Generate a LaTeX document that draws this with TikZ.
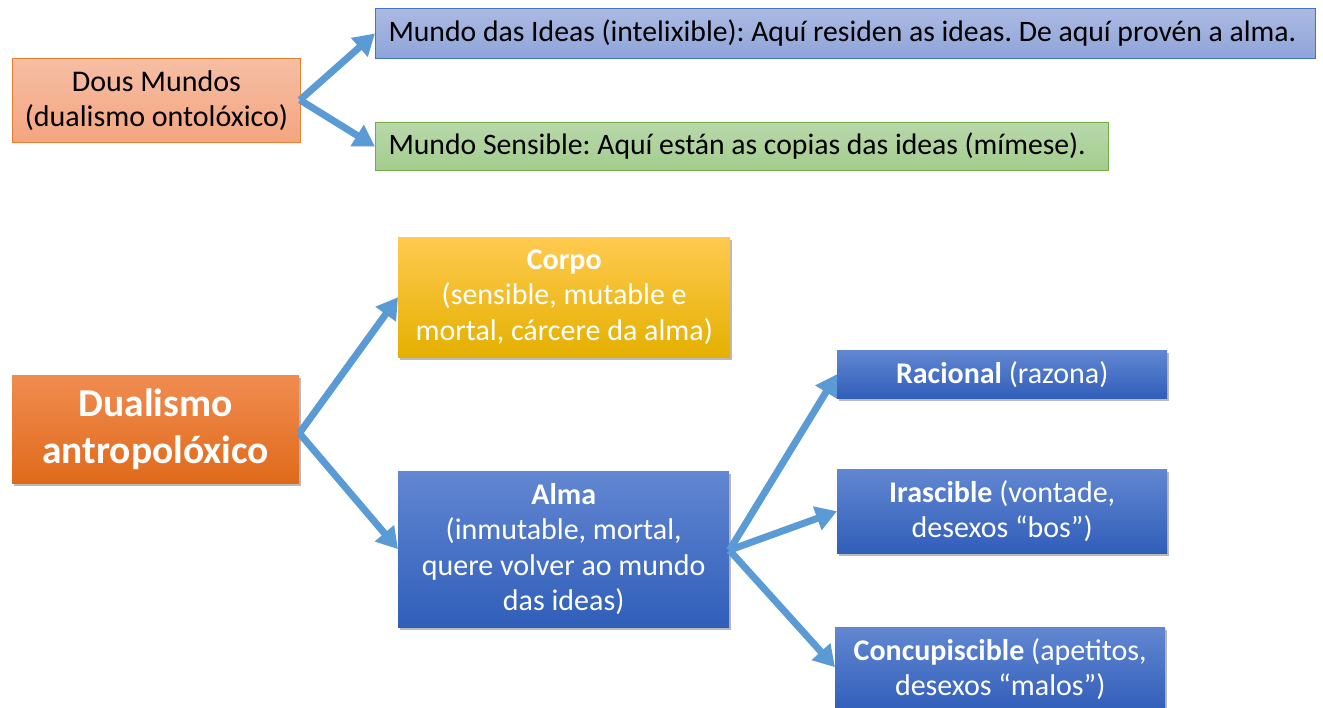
\documentclass[tikz,border=0pt]{standalone}
\usepackage{fontspec}
\setmainfont{Carlito}
\usetikzlibrary{arrows.meta,shadows}
\definecolor{arrowblue}{HTML}{5B9BD5}
\definecolor{orangeedge}{HTML}{ED7D31}
\definecolor{blueedge}{HTML}{4472C4}
\definecolor{greenedge}{HTML}{70AD47}
\definecolor{btop}{RGB}{98,135,210}
\definecolor{bmid}{RGB}{66,114,200}
\definecolor{bbot}{RGB}{48,94,185}
\definecolor{dmtop}{RGB}{246,190,164}
\definecolor{dmbot}{RGB}{244,165,128}
\definecolor{idtop}{RGB}{172,186,226}
\definecolor{idbot}{RGB}{142,164,217}
\definecolor{setop}{RGB}{184,216,170}
\definecolor{sebot}{RGB}{163,204,142}
\definecolor{ctop}{RGB}{255,202,80}
\definecolor{cmid}{RGB}{255,192,0}
\definecolor{cbot}{RGB}{228,176,0}
\definecolor{otop}{RGB}{240,140,80}
\definecolor{omid}{RGB}{237,125,49}
\definecolor{obot}{RGB}{224,106,26}
\frenchspacing
\tikzset{
  box/.style={rectangle,inner sep=0pt,align=center,anchor=north west},
  shad/.style={drop shadow={shadow xshift=2pt,shadow yshift=-3pt,opacity=0.45,fill=black!60}},
  conn/.style={draw=arrowblue,line width=7pt,-{Triangle[length=21pt,width=24pt]},line join=miter},
  bodyfont/.style={font=\fontsize{30}{35.5}\selectfont},
  bluebox/.style={box,shad,top color=btop,middle color=bmid,bottom color=bbot,text=white,bodyfont},
  topbox/.style={rectangle,anchor=north west,inner xsep=13pt,inner ysep=0pt,line width=1pt,font=\fontsize{29.7}{34}\selectfont},
}
\begin{document}
\begin{tikzpicture}[x=1pt,y=-1pt]
\useasboundingbox (0,0) rectangle (1323,708);
% top section
\node[box,draw=orangeedge,line width=1pt,top color=dmtop,bottom color=dmbot,minimum width=288pt,minimum height=84pt,bodyfont] (dm) at (12,58) {Dous Mundos\\(dualismo ontolóxico)};
\node[topbox,draw=blueedge,top color=idtop,bottom color=idbot,minimum height=50pt] (ideas) at (375,8) {\makebox[914pt][l]{Mundo das Ideas (intelixible): Aquí residen as ideas. De aquí provén a alma.}};
\node[topbox,draw=greenedge,top color=setop,bottom color=sebot,minimum height=48pt] (sens) at (375,122) {\makebox[707pt][l]{Mundo Sensible: Aquí están as copias das ideas (mímese).}};
\coordinate (j1) at (300,100);
\draw[conn] (j1) -- (ideas.west);
\draw[conn] (j1) -- (sens.west);
% bottom section
\node[box,shad,top color=ctop,middle color=cmid,bottom color=cbot,text=white,minimum width=332pt,minimum height=120pt,bodyfont] (corpo) at (398,237) {\textbf{Corpo}\\(sensible, mutable e\\mortal, cárcere da alma)};
\node[box,shad,top color=otop,middle color=omid,bottom color=obot,text=white,minimum width=287pt,minimum height=108pt,font=\fontsize{39.5}{47}\selectfont\bfseries] (dua) at (12,375) {Dualismo\\antropolóxico};
\node[bluebox,minimum width=331pt,minimum height=156pt] (alma) at (398,471) {\textbf{Alma}\\(inmutable, mortal,\\quere volver ao mundo\\das ideas)};
\node[bluebox,minimum width=330pt,minimum height=48pt] (rac) at (837,350) {\textbf{Racional} (razona)};
\node[bluebox,minimum width=330pt,minimum height=84pt] (ira) at (837,469) {\textbf{Irascible} (vontade,\\desexos “bos”)};
\node[bluebox,minimum width=330pt,minimum height=84pt] (conc) at (835,627) {\textbf{Concupiscible} (apetitos,\\desexos “malos”)};
\coordinate (j2) at ([yshift=-4pt]dua.east);
\draw[conn] (j2) -- (corpo.west);
\draw[conn] (j2) -- (alma.west);
\coordinate (j3) at ([yshift=-1pt]alma.east);
\draw[conn] (j3) -- (rac.west);
\draw[conn] (j3) -- (ira.west);
\draw[conn] (j3) -- ([yshift=2pt]conc.west);
\end{tikzpicture}
\end{document}
